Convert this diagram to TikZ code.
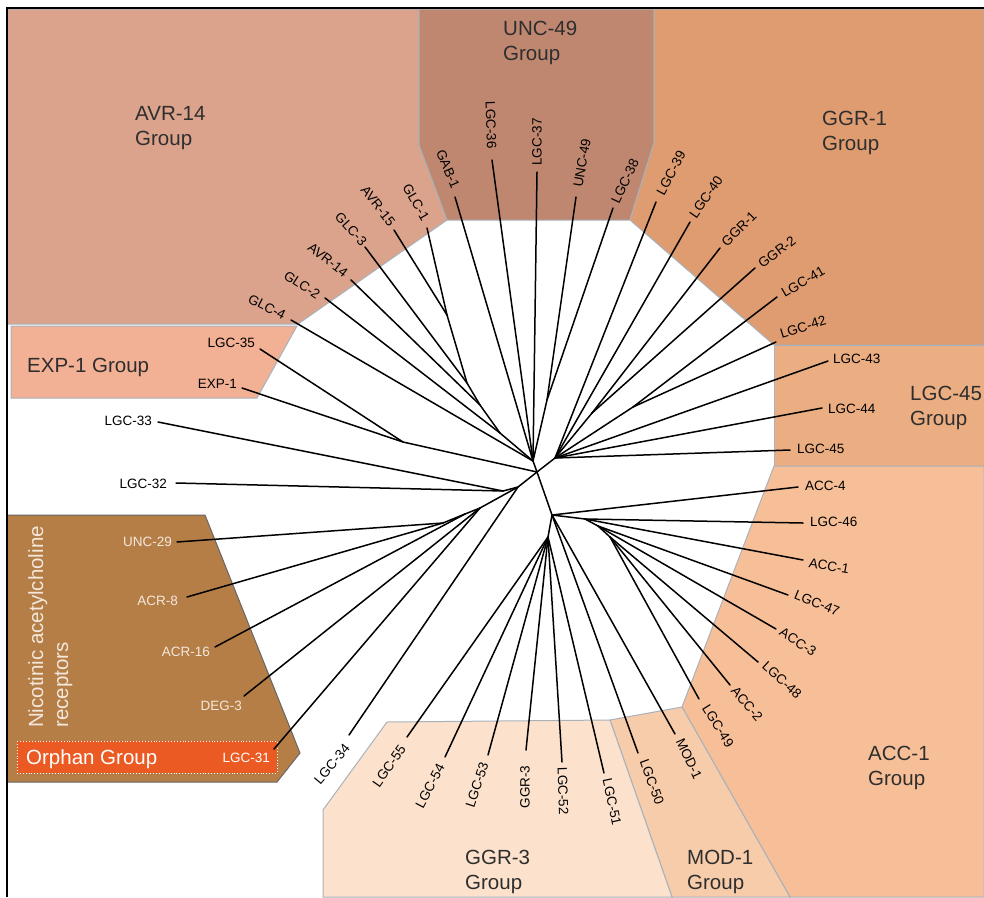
\documentclass[tikz,border=0pt]{standalone}
\usepackage{fontspec}
\setmainfont{Liberation Sans}
\definecolor{cAVR}{HTML}{DBA38B}
\definecolor{cUNC}{HTML}{BF8770}
\definecolor{cGGRa}{HTML}{DE9C70}
\definecolor{cLGCf}{HTML}{EBAD82}
\definecolor{cACC}{HTML}{F7BF97}
\definecolor{cMOD}{HTML}{F7CCAB}
\definecolor{cGGRc}{HTML}{FCE2CC}
\definecolor{cEXP}{HTML}{F2B095}
\definecolor{cNic}{HTML}{B57E47}
\definecolor{cOrph}{HTML}{EC5A24}
\definecolor{cBord}{HTML}{A8B2BC}
\definecolor{cTitle}{HTML}{2E2E2E}
\definecolor{cLight}{HTML}{F4E8DC}
\begin{document}
\begin{tikzpicture}[x=1pt,y=-1pt,
  reg/.style={draw=cBord,line width=1pt},
  br/.style={line width=1.5pt,black,line cap=round,line join=round},
  lf/.style={font=\fontsize{13.5}{15}\selectfont,inner sep=0pt,text=black},
  lfw/.style={lf,text=cLight},
  ttl/.style={font=\fontsize{20.5}{25}\selectfont,inner sep=0pt,align=left,text=cTitle,anchor=base west}]
\useasboundingbox (0,0) rectangle (984,897);
\fill[white] (0,0) rectangle (984,897);
% regions
\path[reg,fill=cAVR] (7,9) -- (419,9) -- (419,145) -- (447,220) -- (298,324) -- (7,324) -- cycle;
\path[reg,fill=cUNC] (419,9) -- (654,9) -- (654,143) -- (630,220) -- (447,220) -- (419,145) -- cycle;
\path[reg,fill=cGGRa] (654,9) -- (984,9) -- (984,345) -- (774,345) -- (630,220) -- (654,143) -- cycle;
\path[reg,fill=cLGCf] (774,345) -- (984,345) -- (984,466) -- (774,466) -- cycle;
\path[reg,fill=cACC] (774,466) -- (984,466) -- (984,897) -- (790,897) -- (682,707) -- cycle;
\path[reg,fill=cMOD] (610,720) -- (682,707) -- (790,897) -- (672,897) -- cycle;
\path[reg,fill=cGGRc] (387,722) -- (610,720) -- (672,897) -- (323,897) -- (323,810) -- cycle;
\path[reg,fill=cEXP] (11,326) -- (297,326) -- (257,398) -- (11,398) -- cycle;
\path[draw=gray!80!black,line width=1pt,fill=cNic] (7,515) -- (205,515) -- (300,753) -- (277,782) -- (7,782) -- cycle;
\path[fill=cOrph,draw=white,line width=0.9pt,dotted] (17,741) rectangle (277,773);
% frame
\draw[line width=1.3pt] (7,897) -- (7,8) -- (984,8);
% titles
\node[ttl] (tAVR) at (135,145.5) {AVR-14\\Group};
\node[ttl] (tUNC) at (503,60.5) {UNC-49\\Group};
\node[ttl] (tGGRa) at (822,150.5) {GGR-1\\Group};
\node[ttl] (tLGCf) at (910,425.5) {LGC-45\\Group};
\node[ttl] (tACC) at (868,785.5) {ACC-1\\Group};
\node[ttl] (tMOD) at (687,889.5) {MOD-1\\Group};
\node[ttl] (tGGRc) at (465,889.5) {GGR-3\\Group};
\node[ttl] (tEXP) at (27,372.5) {EXP-1 Group};
\node[ttl,text=cLight,rotate=90] (tNic) at (68,728) {Nicotinic acetylcholine\\receptors};
\node[ttl,text=white] (tOrph) at (26,764.5) {Orphan Group};
% internal nodes
\coordinate (C0) at (537,472);
\coordinate (U) at (533,461);
\coordinate (Un) at (547,400);
\coordinate (G2) at (447,315);
\coordinate (G1) at (467,383);
\coordinate (G4) at (480,405);
\coordinate (G5) at (500,433);
\coordinate (R) at (555,458);
\coordinate (R1) at (592,413);
\coordinate (R2) at (633,407);
\coordinate (D) at (552,515);
\coordinate (D2) at (548,537);
\coordinate (K1) at (585,519);
\coordinate (K2) at (598,526);
\coordinate (K3) at (610,537);
\coordinate (B) at (518,487);
\coordinate (A) at (503,491);
\coordinate (E) at (403,442);
\coordinate (N1) at (443,523);
\coordinate (N2) at (465,514);
\coordinate (N3) at (480,508);
% leaf ends
\coordinate (GLC4) at (291,320);
\coordinate (GLC2) at (325,298);
\coordinate (AVR14) at (351,280);
\coordinate (GLC3) at (365,247);
\coordinate (AVR15) at (394,230);
\coordinate (GLC1) at (427,228);
\coordinate (GAB1) at (455,197);
\coordinate (LGC36) at (492,160);
\coordinate (LGC37) at (537,172);
\coordinate (UNC49) at (576,197);
\coordinate (LGC38) at (613,208);
\coordinate (LGC39) at (656,202);
\coordinate (LGC40) at (690,222);
\coordinate (GGR1) at (720,248);
\coordinate (GGR2) at (755,268);
\coordinate (LGC41) at (777,297);
\coordinate (LGC42) at (776,342);
\coordinate (LGC43) at (828,361);
\coordinate (LGC44) at (822,408);
\coordinate (LGC45) at (790,450);
\coordinate (ACC4) at (798,487);
\coordinate (LGC46) at (803,523);
\coordinate (ACC1) at (803,560);
\coordinate (LGC47) at (788,595);
\coordinate (ACC3) at (776,629);
\coordinate (LGC48) at (758,662);
\coordinate (ACC2) at (730,685);
\coordinate (LGC49) at (699,699);
\coordinate (MOD1) at (675,734);
\coordinate (LGC50) at (638,753);
\coordinate (LGC51) at (604,773);
\coordinate (LGC52) at (562,762);
\coordinate (GGR3) at (526,750);
\coordinate (LGC53) at (488,755);
\coordinate (LGC54) at (445,757);
\coordinate (LGC55) at (407,737);
\coordinate (LGC34) at (349,735);
\coordinate (LGC31) at (274,749);
\coordinate (DEG3) at (244,696);
\coordinate (ACR16) at (215,647);
\coordinate (ACR8) at (187,597);
\coordinate (UNC29) at (177,542);
\coordinate (LGC32) at (176,483);
\coordinate (LGC33) at (158,422);
\coordinate (EXP1) at (242,388);
\coordinate (LGC35) at (260,349);
% branches
\draw[br] (GLC4) -- (U);
\draw[br] (GLC2) -- (G5);
\draw[br] (AVR14) -- (G4);
\draw[br] (GLC3) -- (G1);
\draw[br] (AVR15) -- (G2);
\draw[br] (GLC1) -- (G2);
\draw[br] (G2) -- (G1) -- (G4) -- (G5) -- (U);
\draw[br] (GAB1) -- (U);
\draw[br] (LGC36) -- (U);
\draw[br] (LGC37) -- (U);
\draw[br] (UNC49) -- (Un);
\draw[br] (LGC38) -- (Un);
\draw[br] (Un) -- (U) -- (C0);
\draw[br] (LGC39) -- (R);
\draw[br] (LGC40) -- (R);
\draw[br] (GGR1) -- (R1);
\draw[br] (GGR2) -- (R1);
\draw[br] (R1) -- (R);
\draw[br] (LGC41) -- (R2);
\draw[br] (LGC42) -- (R2);
\draw[br] (R2) -- (R);
\draw[br] (LGC43) -- (R);
\draw[br] (LGC44) -- (R);
\draw[br] (LGC45) -- (R);
\draw[br] (R) -- (C0);
\draw[br] (ACC4) -- (D);
\draw[br] (K1) -- (D);
\draw[br] (LGC46) -- (K1);
\draw[br] (ACC1) -- (K1);
\draw[br] (K2) -- (K1);
\draw[br] (LGC47) -- (K2);
\draw[br] (ACC3) -- (K2);
\draw[br] (K3) -- (K2);
\draw[br] (LGC48) -- (K3);
\draw[br] (ACC2) -- (K3);
\draw[br] (LGC49) -- (K3);
\draw[br] (MOD1) -- (D);
\draw[br] (LGC50) -- (D);
\draw[br] (D2) -- (D);
\draw[br] (LGC51) -- (D2);
\draw[br] (LGC52) -- (D2);
\draw[br] (GGR3) -- (D2);
\draw[br] (LGC53) -- (D2);
\draw[br] (LGC54) -- (D2);
\draw[br] (LGC55) -- (D2);
\draw[br] (D) -- (C0);
\draw[br] (LGC35) -- (E);
\draw[br] (EXP1) -- (E);
\draw[br] (E) -- (C0);
\draw[br] (LGC33) -- (A);
\draw[br] (LGC32) -- (A);
\draw[br] (A) -- (B);
\draw[br] (LGC34) -- (B);
\draw[br] (UNC29) -- (N1);
\draw[br] (ACR8) -- (N1);
\draw[br] (N1) -- (N2);
\draw[br] (ACR16) -- (N2);
\draw[br] (N2) -- (N3);
\draw[br] (DEG3) -- (N3);
\draw[br] (LGC31) -- (N3);
\draw[br] (N3) -- (B);
\draw[br] (B) -- (C0);
% leaf labels
\node[lf,rotate=-27] (tGLC4) at (267,307) {GLC-4};
\node[lf,rotate=-33] (tGLC2) at (302,285) {GLC-2};
\node[lf,rotate=-38] (tAVR14) at (328,260) {AVR-14};
\node[lf,rotate=-48] (tGLC3) at (351,229) {GLC-3};
\node[lf,rotate=-52] (tAVR15) at (378,206) {AVR-15};
\node[lf,rotate=-60] (tGLC1) at (416,202) {GLC-1};
\node[lf,rotate=-67] (tGAB1) at (448,169) {GAB-1};
\node[lf,rotate=-88] (tLGC36) at (491,125) {LGC-36};
\node[lf,rotate=90] (tLGC37) at (537,142) {LGC-37};
\node[lf,rotate=80] (tUNC49) at (582,163) {UNC-49};
\node[lf,rotate=65] (tLGC38) at (625,181) {LGC-38};
\node[lf,rotate=62] (tLGC39) at (671,173) {LGC-39};
\node[lf,rotate=55] (tLGC40) at (706,197) {LGC-40};
\node[lf,rotate=45] (tGGR1) at (739,229) {GGR-1};
\node[lf,rotate=37] (tGGR2) at (777,252) {GGR-2};
\node[lf,rotate=30] (tLGC41) at (803,282) {LGC-41};
\node[lf,rotate=17] (tLGC42) at (803,327) {LGC-42};
\node[lf,anchor=west] (tLGC43) at (833,359) {LGC-43};
\node[lf,anchor=west] (tLGC44) at (828,409) {LGC-44};
\node[lf,anchor=west] (tLGC45) at (797,449) {LGC-45};
\node[lf,anchor=west] (tACC4) at (805,486) {ACC-4};
\node[lf,anchor=west] (tLGC46) at (810,522) {LGC-46};
\node[lf,rotate=-10] (tACC1) at (829,566) {ACC-1};
\node[lf,rotate=-22] (tLGC47) at (817,603) {LGC-47};
\node[lf,rotate=-33] (tACC3) at (798,642) {ACC-3};
\node[lf,rotate=-42] (tLGC48) at (782,680) {LGC-48};
\node[lf,rotate=-50] (tACC2) at (747,704) {ACC-2};
\node[lf,rotate=-58] (tLGC49) at (718,726) {LGC-49};
\node[lf,rotate=-65] (tMOD1) at (689,759) {MOD-1};
\node[lf,rotate=-70] (tLGC50) at (652,782) {LGC-50};
\node[lf,rotate=-78] (tLGC51) at (612,802) {LGC-51};
\node[lf,rotate=-88] (tLGC52) at (563,791) {LGC-52};
\node[lf,rotate=90] (tGGR3) at (525,787) {GGR-3};
\node[lf,rotate=72] (tLGC53) at (477,785) {LGC-53};
\node[lf,rotate=62] (tLGC54) at (430,786) {LGC-54};
\node[lf,rotate=55] (tLGC55) at (389,766) {LGC-55};
\node[lf,rotate=50] (tLGC34) at (332,764) {LGC-34};
\node[lfw,text=white,anchor=east] (tLGC31) at (270,758) {LGC-31};
\node[lfw,anchor=east] (tDEG3) at (242,706) {DEG-3};
\node[lfw,anchor=east] (tACR16) at (210,652) {ACR-16};
\node[lfw,anchor=east] (tACR8) at (178,601) {ACR-8};
\node[lfw,anchor=east] (tUNC29) at (172,542) {UNC-29};
\node[lf,anchor=east] (tLGC32) at (167,484) {LGC-32};
\node[lf,anchor=east] (tLGC33) at (152,421) {LGC-33};
\node[lf,anchor=east] (tEXP1) at (237,384) {EXP-1};
\node[lf,anchor=east] (tLGC35) at (255,343) {LGC-35};
\end{tikzpicture}
\end{document}
